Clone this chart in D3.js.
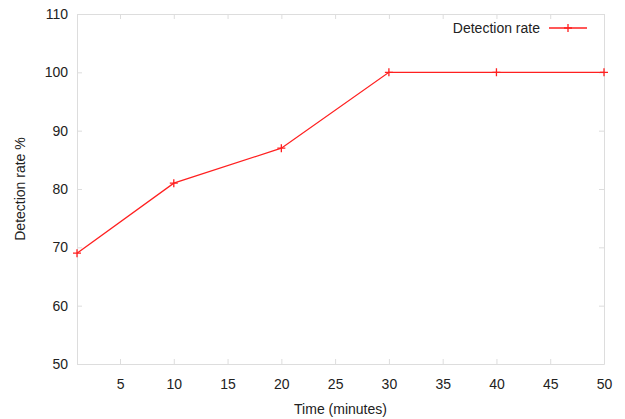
<!DOCTYPE html>
<html>
<head>
<meta charset="utf-8">
<script src="https://cdn.jsdelivr.net/npm/d3@7"></script>
<style>
  body { margin: 0; background: #fff; }
  text { font-family: "Liberation Sans", Arial, sans-serif; fill: #222; }
</style>
</head>
<body>
<svg id="chart" width="625" height="419"></svg>
<script>
// data
const minutes = [1, 10, 20, 30, 40, 50];
const detectionRate = [69, 81, 87, 100, 100, 100];
const xTicks = [5, 10, 15, 20, 25, 30, 35, 40, 45, 50];
const yTicks = [50, 60, 70, 80, 90, 100, 110];
const seriesName = 'Detection rate';

const margin = { top: 14, right: 21, bottom: 55, left: 77 };
const width = 625, height = 419;
const fontSize = 14;
const svg = d3.select('#chart');

const x = d3.scaleLinear().domain([1, 50]).range([margin.left, width - margin.right]);
const y = d3.scaleLinear().domain([50, 110]).range([height - margin.bottom, margin.top]);

const gridColor = '#ddd';
const tickLen = 5;

// ticks on all four sides, pointing inward (gnuplot mirror style)
const axisB = svg.append('g')
  .attr('transform', `translate(0,${y(50)})`)
  .call(d3.axisBottom(x).tickValues(xTicks).tickSizeInner(-tickLen).tickSizeOuter(0).tickPadding(15));
const axisT = svg.append('g')
  .attr('transform', `translate(0,${y(110)})`)
  .call(d3.axisTop(x).tickValues(xTicks).tickSizeInner(-tickLen).tickSizeOuter(0).tickFormat(''));
const axisL = svg.append('g')
  .attr('transform', `translate(${x(1)},0)`)
  .call(d3.axisLeft(y).tickValues(yTicks).tickSizeInner(-tickLen).tickSizeOuter(0).tickPadding(9));
const axisR = svg.append('g')
  .attr('transform', `translate(${x(50)},0)`)
  .call(d3.axisRight(y).tickValues(yTicks).tickSizeInner(-tickLen).tickSizeOuter(0).tickFormat(''));

[axisB, axisT, axisL, axisR].forEach(g => {
  g.select('.domain').attr('stroke', gridColor);
  g.selectAll('.tick line').attr('stroke', gridColor);
  g.selectAll('.tick text').attr('font-size', fontSize).attr('fill', '#222')
    .attr('font-family', '"Liberation Sans", Arial, sans-serif');
});

// axis titles
svg.append('text')
  .attr('x', (x(1) + x(50)) / 2).attr('y', 414)
  .attr('text-anchor', 'middle').attr('font-size', fontSize)
  .text('Time (minutes)');
svg.append('text')
  .attr('transform', `translate(25,${(y(50) + y(110)) / 2}) rotate(-90)`)
  .attr('text-anchor', 'middle').attr('font-size', fontSize)
  .text('Detection rate %');

// series
const red = '#ff2020';
const pts = minutes.map((m, i) => [m, detectionRate[i]]);
svg.append('path')
  .datum(pts)
  .attr('fill', 'none')
  .attr('stroke', red)
  .attr('stroke-width', 1.3)
  .attr('d', d3.line().x(d => x(d[0])).y(d => y(d[1])));

const markSize = 4;
const plusPath = s => `M${-s},0H${s}M0,${-s}V${s}`;
svg.append('g').selectAll('path')
  .data(pts)
  .join('path')
  .attr('transform', d => `translate(${x(d[0])},${y(d[1])})`)
  .attr('d', plusPath(markSize))
  .attr('stroke', red)
  .attr('stroke-width', 1.3)
  .attr('fill', 'none');

// legend
const legY = 28;
svg.append('text')
  .attr('x', 540).attr('y', legY + 5)
  .attr('text-anchor', 'end').attr('font-size', fontSize)
  .text(seriesName);
svg.append('line')
  .attr('x1', 549).attr('x2', 587).attr('y1', legY).attr('y2', legY)
  .attr('stroke', red).attr('stroke-width', 1.3);
svg.append('path')
  .attr('transform', `translate(568,${legY})`)
  .attr('d', plusPath(markSize))
  .attr('stroke', red).attr('stroke-width', 1.3);
</script>
</body>
</html>
